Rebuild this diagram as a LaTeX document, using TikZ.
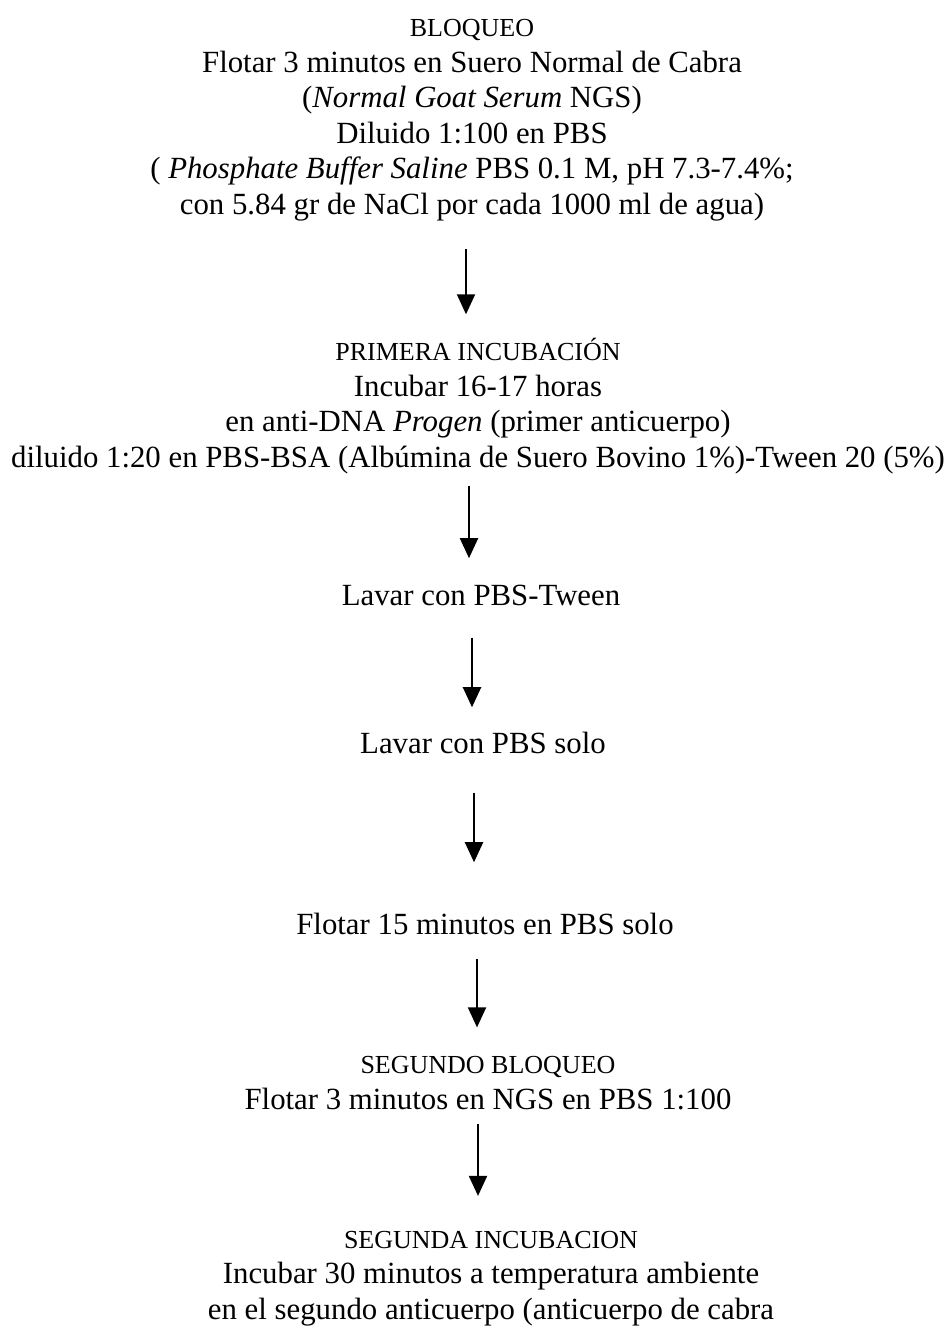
\documentclass[tikz,border=0pt]{standalone}
\usepackage{fontspec}
\setmainfont{Liberation Serif}
\usetikzlibrary{arrows.meta}
\tikzset{
  >={Triangle[length=10pt,width=9pt]},
  paso/.style={align=center,inner sep=0pt,anchor=base,font=\fontsize{15.4}{17.75}\selectfont},
  arr/.style={->,line width=1pt},
}
\newcommand{\titulo}[1]{{\fontsize{13}{17.75}\selectfont #1}}

\begin{document}
\begin{tikzpicture}[x=0.5pt,y=-0.5pt]
\useasboundingbox (0,0) rectangle (947,1327);
% anchor=base es la linea de base de la ultima linea
\node[paso] (bloq) at (472,214) {\titulo{BLOQUEO}\\
  Flotar 3 minutos en Suero Normal de Cabra\\
  (\textit{Normal Goat Serum} NGS)\\
  Diluido 1:100 en PBS\\
  ( \textit{Phosphate Buffer Saline} PBS 0.1 M, pH 7.3-7.4\%;\\
  con 5.84 gr de NaCl por cada 1000 ml de agua)};
\node[paso] (inc1) at (478,467) {\titulo{PRIMERA INCUBACIÓN}\\
  Incubar 16-17 horas\\
  en anti-DNA \textit{Progen} (primer anticuerpo)\\
  diluido 1:20 en PBS-BSA (Albúmina de Suero Bovino 1\%)-Tween 20 (5\%)};
\node[paso] (lav1) at (481,605) {Lavar con PBS-Tween};
\node[paso] (lav2) at (483,753) {Lavar con PBS solo};
\node[paso] (flot) at (485,934) {Flotar 15 minutos en PBS solo};
\node[paso] (bloq2) at (488,1109) {\titulo{SEGUNDO BLOQUEO}\\
  Flotar 3 minutos en NGS en PBS 1:100};
\node[paso] (inc2) at (491,1319) {\titulo{SEGUNDA INCUBACION}\\
  Incubar 30 minutos a temperatura ambiente\\
  en el segundo anticuerpo (anticuerpo de cabra};
% flechas
\draw[arr,shorten <=14pt,shorten >=11.75pt] ([xshift=-3pt]bloq.south) -- ([xshift=-3pt]bloq.south |- inc1.north);
\draw[arr,shorten <=6pt,shorten >=13pt] ([xshift=-4.5pt]inc1.south) -- ([xshift=-4.5pt]inc1.south |- lav1.north);
\draw[arr,shorten <=16pt,shorten >=12pt] ([xshift=-4.5pt]lav1.south) -- ([xshift=-4.5pt]lav1.south |- lav2.north);
\draw[arr,shorten <=19.5pt,shorten >=25pt] ([xshift=-4.5pt]lav2.south) -- ([xshift=-4.5pt]lav2.south |- flot.north);
\draw[arr,shorten <=12pt,shorten >=14.25pt] ([xshift=-4pt]flot.south) -- ([xshift=-4pt]flot.south |- bloq2.north);
\draw[arr,shorten <=7.25pt,shorten >=17.25pt] ([xshift=-5pt]bloq2.south) -- ([xshift=-5pt]bloq2.south |- inc2.north);
\end{tikzpicture}
\end{document}
